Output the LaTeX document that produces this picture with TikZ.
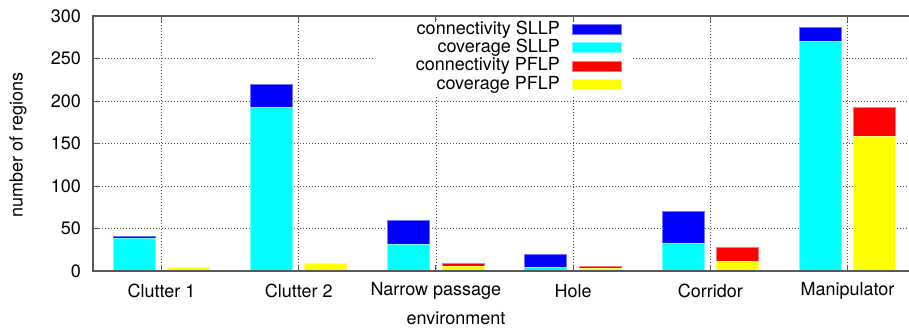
\documentclass[tikz,border=0pt]{standalone}
\usepackage{fontspec}
\setmainfont{TeX Gyre Heros}
\definecolor{barblue}{RGB}{0,0,255}
\definecolor{barcyan}{RGB}{0,255,255}
\definecolor{barred}{RGB}{255,0,0}
\definecolor{baryellow}{RGB}{255,255,0}
\begin{document}
\begin{tikzpicture}[x=1pt,y=-1pt,
  lbl/.style={font=\fontsize{18}{20}\selectfont, inner sep=0pt},
  gridline/.style={gray!60!black, line width=0.7pt, dash pattern=on 0.9pt off 2.1pt},
  frame/.style={gray!70!black, line width=1.3pt},
  tickmark/.style={gray!70!black, line width=0.9pt},
  conS/.style={fill=barblue, draw=barblue!55!white, line width=0.5pt},
  covS/.style={fill=barcyan, draw=barcyan!55!white, line width=0.5pt},
  conP/.style={fill=barred, draw=barred!55!white, line width=0.5pt},
  covP/.style={fill=baryellow, draw=baryellow!55!white, line width=0.5pt}]
\useasboundingbox[fill=white] (0,0) rectangle (909,329);
% value -> vertical position
\def\yv#1{{271-0.85*(#1)}}
% grid
\foreach \v in {50,100,...,250}
  \draw[gridline] (93,\yv{\v}) -- (909,\yv{\v});
\foreach \t in {161.5,298.7,435.9,573.1,710.3,847.5}
  \draw[gridline] (\t,16) -- (\t,271);
% legend background
\fill[white] (373,22) rectangle (632,97);
% tick marks
\foreach \t in {161.5,298.7,435.9,573.1,710.3,847.5} {
  \draw[tickmark] (\t,16) -- (\t,22);
  \draw[tickmark] (\t,271) -- (\t,265);
}
\foreach \v in {50,100,...,250}
  \draw[tickmark] (93,\yv{\v}) -- (99,\yv{\v});
% bars: SLLP (left of each tick) and PFLP (right of each tick)
\newcommand\barpair[5]{%
  \draw[conS] (#1-48.5,\yv{0}) rectangle (#1-6.5,\yv{#3});
  \draw[covS] (#1-48.5,\yv{0}) rectangle (#1-6.5,\yv{#2});
  \draw[conP] (#1+6,\yv{0}) rectangle (#1+48,\yv{#5});
  \draw[covP] (#1+6,\yv{0}) rectangle (#1+48,\yv{#4});
}
\barpair{161.5}{39}{40.6}{4}{4.4}
\barpair{298.7}{193}{220}{8.6}{8.6}
\barpair{435.9}{31.4}{60}{5.5}{9.4}
\barpair{573.1}{3.9}{20}{3.2}{5.5}
\barpair{710.3}{33}{69.8}{11}{27.4}
\barpair{847.5}{270.6}{286.7}{158}{193}
% frame
\draw[frame] (909,16) -- (93,16) -- (93,271) -- (909,271);
% y tick labels
\foreach \v in {0,50,...,300}
  \node[lbl, anchor=east] (y\v) at (81,\yv{\v}) {\v};
\node[lbl, rotate=90] (ylab) at (18,145) {number of regions};
% category labels
\node[lbl] (c1) at (161.5,291) {Clutter 1};
\node[lbl] (c2) at (298.7,291) {Clutter 2};
\node[lbl] (c3) at (435.9,291) {Narrow passage};
\node[lbl] (c4) at (573.1,291) {Hole};
\node[lbl] (c5) at (710.3,291) {Corridor};
\node[lbl] (c6) at (847.5,291) {Manipulator};
\node[lbl] (xlab) at (456,318) {environment};
% legend
\node[lbl, anchor=east] (l1) at (560,29.3) {connectivity SLLP};
\node[lbl, anchor=east] (l2) at (560,47.7) {coverage SLLP};
\node[lbl, anchor=east] (l3) at (560,66) {connectivity PFLP};
\node[lbl, anchor=east] (l4) at (560,84.7) {coverage PFLP};
\draw[conS] (572,24.3) rectangle (621,34.3);
\draw[covS] (572,42.7) rectangle (621,52.7);
\draw[conP] (572,61) rectangle (621,71);
\draw[covP] (572,79.7) rectangle (621,89.7);
\end{tikzpicture}
\end{document}
